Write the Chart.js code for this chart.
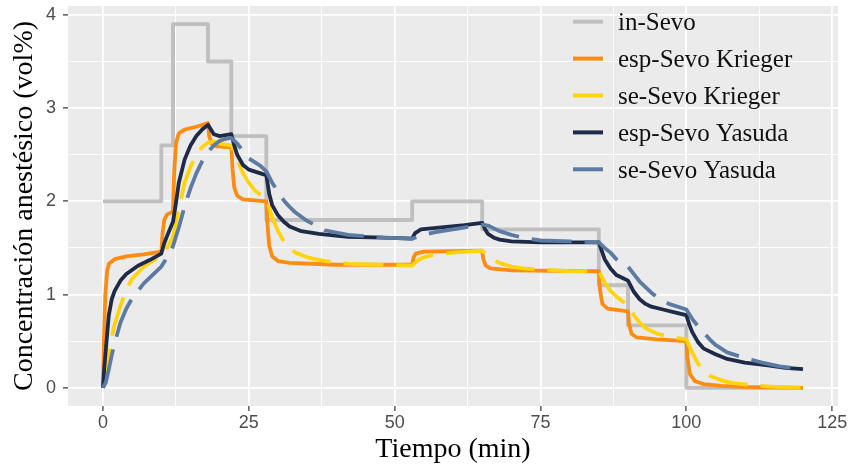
<!DOCTYPE html>
<html>
<head>
<meta charset="utf-8">
<script src="https://cdn.jsdelivr.net/npm/chart.js@4.4.1/dist/chart.umd.min.js"></script>
<style>
  html, body { margin: 0; padding: 0; background: #ffffff; }
  canvas { display: block; }
</style>
</head>
<body>
<canvas id="c" width="852" height="471" style="width:852px;height:471px"></canvas>
<script>
// ---------- data ----------
const seriesLabels = ['in-Sevo', 'esp-Sevo Krieger', 'se-Sevo Krieger', 'esp-Sevo Yasuda', 'se-Sevo Yasuda'];

// in-Sevo: stepped (time of change, new value)
const tInSevo = [0, 10, 12, 18, 22, 28, 53, 65, 85, 90, 100, 120];
const vInSevo = [2.0, 2.6, 3.9, 3.5, 2.7, 1.8, 2.0, 1.7, 1.1, 0.67, 0, 0];

const tEspKrieger = [0, 0.2, 0.4, 0.7, 1, 2, 4, 7, 10, 10.2, 10.5, 11, 12, 12.2, 12.5, 13, 14, 16, 18, 18.2, 18.6, 19.5, 22, 22.2, 22.5, 23, 24, 28, 28.2, 28.5, 29, 30, 32, 40, 53, 53.2, 53.6, 55, 60, 65, 65.2, 65.6, 66.5, 70, 85, 85.2, 85.6, 86.5, 90, 90.2, 90.6, 91.5, 95, 100, 100.2, 100.6, 101.5, 103, 106, 110, 120];
const vEspKrieger = [0, 0.6, 1.0, 1.25, 1.33, 1.38, 1.41, 1.43, 1.46, 1.65, 1.8, 1.86, 1.89, 2.3, 2.62, 2.73, 2.77, 2.8, 2.84, 2.7, 2.62, 2.59, 2.58, 2.35, 2.15, 2.06, 2.02, 2.0, 1.75, 1.52, 1.41, 1.36, 1.34, 1.32, 1.32, 1.39, 1.44, 1.46, 1.465, 1.47, 1.38, 1.31, 1.28, 1.26, 1.25, 1.05, 0.9, 0.85, 0.82, 0.68, 0.58, 0.54, 0.52, 0.5, 0.32, 0.15, 0.07, 0.04, 0.02, 0.01, 0.0];

const tSeKrieger = [0, 0.5, 1, 1.5, 2, 3, 4, 5, 7, 10, 11, 12, 13, 14, 15, 16, 17, 18, 19, 20, 22, 23, 24, 25, 26, 27, 28, 29, 30, 31, 32, 33, 35, 38, 42, 47, 53, 54, 55, 57, 60, 65, 66, 67, 68, 70, 72, 75, 80, 85, 86, 87, 88, 89, 90, 91, 92, 93, 95, 97, 100, 101, 102, 103, 104, 106, 108, 111, 115, 120];
const vSeKrieger = [0, 0.12, 0.35, 0.55, 0.68, 0.88, 1.05, 1.17, 1.3, 1.42, 1.5, 1.62, 1.92, 2.2, 2.37, 2.5, 2.58, 2.63, 2.64, 2.62, 2.6, 2.45, 2.3, 2.2, 2.12, 2.07, 2.03, 1.83, 1.68, 1.57, 1.5, 1.45, 1.4, 1.36, 1.33, 1.32, 1.31, 1.37, 1.4, 1.43, 1.45, 1.47, 1.42, 1.37, 1.34, 1.3, 1.28, 1.27, 1.25, 1.25, 1.13, 1.04, 0.98, 0.93, 0.89, 0.78, 0.7, 0.64, 0.58, 0.55, 0.52, 0.38, 0.26, 0.18, 0.13, 0.08, 0.05, 0.03, 0.01, 0.0];

const tEspYasuda = [0, 0.2, 0.5, 1, 1.5, 2, 3, 4, 6, 8, 10, 10.5, 11, 12, 12.5, 13, 14, 15, 16, 17, 18, 18.5, 19, 20, 21, 22, 22.5, 23, 24, 25, 27, 28, 28.5, 29, 30, 31, 32, 34, 37, 42, 48, 53, 53.5, 54.5, 58, 62, 65, 65.5, 66, 67, 68, 70, 75, 80, 85, 85.5, 86, 87, 88, 89, 90, 91, 92, 93, 94, 96, 98, 100, 100.5, 101, 102, 103, 105, 107, 110, 114, 117, 120];
const vEspYasuda = [0, 0.2, 0.42, 0.78, 0.95, 1.04, 1.15, 1.22, 1.31, 1.37, 1.44, 1.55, 1.63, 1.78, 1.98, 2.2, 2.45, 2.6, 2.7, 2.77, 2.82, 2.77, 2.72, 2.7, 2.71, 2.72, 2.6, 2.5, 2.39, 2.34, 2.3, 2.28, 2.08, 1.96, 1.85, 1.78, 1.73, 1.68, 1.65, 1.62, 1.61, 1.6, 1.66, 1.7, 1.72, 1.745, 1.77, 1.7, 1.65, 1.61, 1.59, 1.57, 1.56, 1.56, 1.56, 1.47, 1.38, 1.28, 1.21, 1.18, 1.15, 1.03, 0.95, 0.9, 0.87, 0.84, 0.81, 0.78, 0.68, 0.6, 0.49, 0.42, 0.36, 0.31, 0.27, 0.24, 0.215, 0.2];

const tSeYasuda = [0, 0.5, 1, 1.5, 2, 3, 4, 5, 7, 10, 11, 12, 13, 14, 15, 16, 17, 18, 19, 20, 21, 22, 23, 24, 25, 26, 27, 28, 29, 30, 31, 32, 33, 35, 38, 42, 48, 53, 55, 57, 60, 65, 66, 67, 68, 70, 72, 75, 80, 85, 86, 87, 88, 89, 90, 91, 92, 93, 94, 95, 97, 100, 101, 102, 103, 104, 105, 107, 110, 113, 116, 120];
const vSeYasuda = [0, 0.06, 0.2, 0.35, 0.48, 0.7, 0.85, 0.96, 1.12, 1.3, 1.4, 1.52, 1.72, 1.95, 2.14, 2.3, 2.43, 2.53, 2.6, 2.65, 2.67, 2.68, 2.62, 2.54, 2.46, 2.42, 2.38, 2.32, 2.2, 2.1, 2.01, 1.94, 1.88, 1.79, 1.69, 1.64, 1.61, 1.6, 1.64, 1.67, 1.7, 1.75, 1.74, 1.71, 1.68, 1.64, 1.61, 1.58, 1.57, 1.56, 1.5, 1.45, 1.38, 1.33, 1.3, 1.22, 1.14, 1.08, 1.02, 0.97, 0.9, 0.84, 0.74, 0.66, 0.59, 0.52, 0.46, 0.38, 0.32, 0.27, 0.23, 0.2];

const xTickValues = [0, 12.5, 25, 37.5, 50, 62.5, 75, 87.5, 100, 112.5, 125];
const xMajorTicks = [0, 25, 50, 75, 100, 125];
const yTickValues = [0, 0.5, 1, 1.5, 2, 2.5, 3, 3.5, 4];
const yMajorTicks = [0, 1, 2, 3, 4];

const xTitle = 'Tiempo (min)';
const yTitle = 'Concentración anestésico (vol%)';

// ---------- build ----------
const pts = (t, v) => t.map((x, i) => ({ x: x, y: v[i] }));
const colors = ['#bfbfbf', '#ff8c12', '#ffd40f', '#1d2a48', '#5b7ba3'];
const dashes = [[], [], [40, 13], [], [40, 13]];
const tSets = [tInSevo, tEspKrieger, tSeKrieger, tEspYasuda, tSeYasuda];
const vSets = [vInSevo, vEspKrieger, vSeKrieger, vEspYasuda, vSeYasuda];

const datasets = seriesLabels.map((lab, i) => ({
  label: lab,
  data: pts(tSets[i], vSets[i]),
  borderColor: colors[i],
  backgroundColor: colors[i],
  borderWidth: 3.8,
  borderDash: dashes[i],
  pointRadius: 0,
  fill: false,
  tension: 0,
  stepped: i === 0 ? 'before' : false,
  borderJoinStyle: 'round',
  order: 5 - i
}));

const panelPlugin = {
  id: 'panelBg',
  beforeDraw(chart) {
    const { ctx, chartArea: a } = chart;
    ctx.save();
    ctx.fillStyle = '#ebebeb';
    ctx.fillRect(a.left, a.top, a.right - a.left, a.bottom - a.top);
    ctx.restore();
  }
};

const legendPlugin = {
  id: 'ggLegend',
  afterDatasetsDraw(chart) {
    const ctx = chart.ctx;
    ctx.save();
    const x0 = 573, x1 = 603, tx = 618, y0 = 21.7, step = 36.9;
    chart.data.datasets.forEach((ds, i) => {
      const y = y0 + i * step;
      ctx.strokeStyle = ds.borderColor;
      ctx.lineWidth = 4;
      ctx.setLineDash([]);
      ctx.beginPath();
      ctx.moveTo(x0, y);
      ctx.lineTo(x1, y);
      ctx.stroke();
      ctx.fillStyle = '#111111';
      ctx.font = '25px "Liberation Serif", "Times New Roman", serif';
      ctx.textBaseline = 'alphabetic';
      ctx.textAlign = 'left';
      ctx.fillText(ds.label, tx, y + 8.5);
    });
    ctx.restore();
  }
};

const tickFont = { family: '"Liberation Sans", Arial, sans-serif', size: 18 };
const titleFont = { family: '"Liberation Serif", "Times New Roman", serif', size: 28 };

new Chart(document.getElementById('c'), {
  type: 'line',
  data: { datasets: datasets },
  options: {
    responsive: false,
    animation: false,
    devicePixelRatio: 1,
    layout: { padding: { left: 0, right: 14, top: 6, bottom: 0 } },
    plugins: { legend: { display: false }, tooltip: { enabled: false } },
    scales: {
      x: {
        type: 'linear',
        min: -6,
        max: 126,
        afterBuildTicks: (s) => { s.ticks = xTickValues.map(v => ({ value: v })); },
        afterFit: (s) => { s.height = 65; s.paddingLeft = 0; s.paddingRight = 0; },
        border: { display: false },
        grid: {
          color: '#ffffff',
          lineWidth: (c) => (c.tick && xMajorTicks.includes(c.tick.value)) ? 1.8 : 0.9,
          drawTicks: true,
          tickLength: 5,
          tickWidth: 1.2,
          tickColor: (c) => (c.tick && xMajorTicks.includes(c.tick.value)) ? '#333333' : 'rgba(0,0,0,0)'
        },
        ticks: {
          autoSkip: false,
          maxRotation: 0,
          padding: 1,
          color: '#4d4d4d',
          font: tickFont,
          callback: (v) => xMajorTicks.includes(v) ? String(v) : ''
        },
        title: { display: true, text: xTitle, color: '#000000', font: titleFont, padding: { top: 0, bottom: 5 } }
      },
      y: {
        type: 'linear',
        min: -0.195,
        max: 4.095,
        afterBuildTicks: (s) => { s.ticks = yTickValues.map(v => ({ value: v })); },
        afterFit: (s) => { s.width = 68; s.paddingTop = 0; s.paddingBottom = 0; },
        border: { display: false },
        grid: {
          color: '#ffffff',
          lineWidth: (c) => (c.tick && yMajorTicks.includes(c.tick.value)) ? 1.8 : 0.9,
          drawTicks: true,
          tickLength: 5,
          tickWidth: 1.2,
          tickColor: (c) => (c.tick && yMajorTicks.includes(c.tick.value)) ? '#333333' : 'rgba(0,0,0,0)'
        },
        ticks: {
          autoSkip: false,
          padding: 7,
          color: '#4d4d4d',
          font: tickFont,
          callback: (v) => yMajorTicks.includes(v) ? String(v) : ''
        },
        title: { display: true, text: yTitle, color: '#000000', font: titleFont, padding: { top: 8, bottom: 0 } }
      }
    }
  },
  plugins: [panelPlugin, legendPlugin]
});
</script>
</body>
</html>
